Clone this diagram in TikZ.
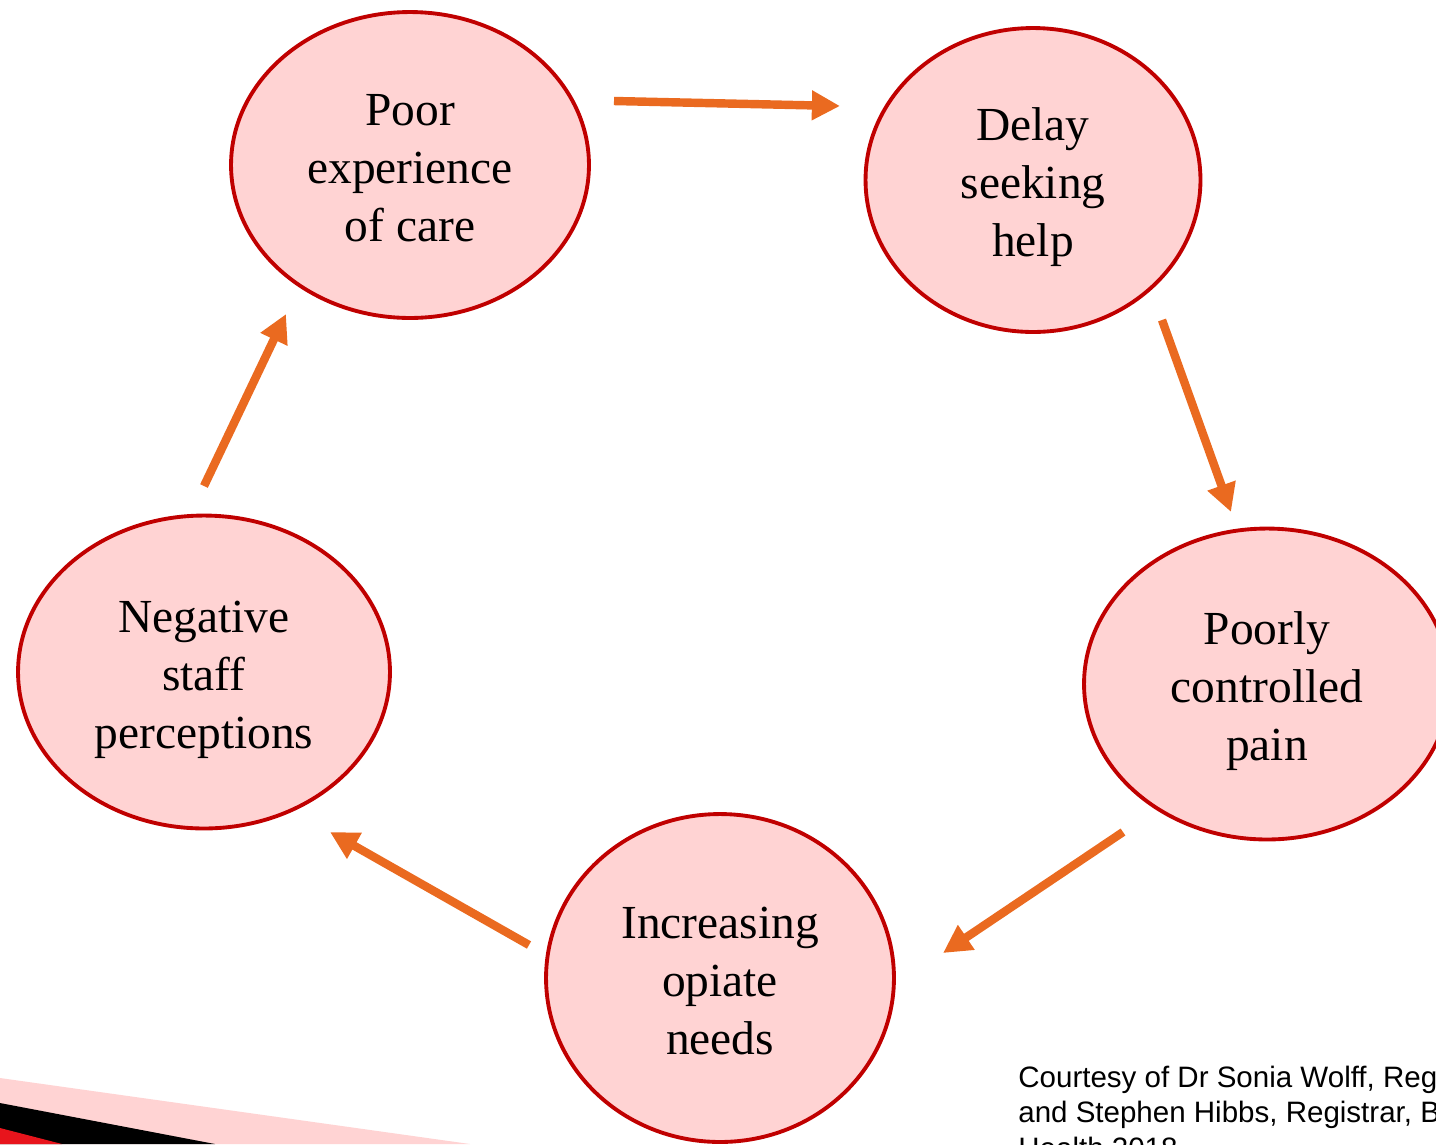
\documentclass[tikz,border=0pt]{standalone}
\usepackage{fontspec}
\setmainfont{Liberation Serif}
\newfontfamily\creditfont{Liberation Sans}
\usetikzlibrary{arrows.meta,shapes.geometric}
\definecolor{cyclepink}{HTML}{FFD3D3}
\definecolor{cyclered}{HTML}{C00000}
\definecolor{cycleorange}{HTML}{EA6A20}
\definecolor{bandred}{HTML}{E8141C}
% fixed height and depth, so each three-line label sits the same in its ellipse
\newcommand{\stagetop}{\rule{0pt}{27pt}}
\newcommand{\stagebottom}{\rule[-6pt]{0pt}{6pt}}

\begin{document}
\begin{tikzpicture}[x=0.02cm,y=-0.02cm]
      \useasboundingbox (0,0) rectangle (1436,1144);
      \clip (0,0) rectangle (1436,1144);
      % corner bands of the slide
      \fill[cyclepink] (0,1078) -- (470,1144) -- (0,1144) -- cycle;
      \fill[black] (0,1103) -- (215,1144) -- (0,1144) -- cycle;
      \fill[bandred] (0,1128) -- (62,1144) -- (0,1144) -- cycle;
      \begin{scope}[every node/.style={ellipse,draw=cyclered,fill=cyclepink,line width=2.2pt,
          inner sep=0pt,align=center,font=\fontsize{27}{33}\selectfont}]
        \node (poor) [minimum width=7.16cm,minimum height=6.12cm] at (410,165) {\stagetop Poor\\experience\\of care\stagebottom};
        \node (delay) [minimum width=6.7cm,minimum height=6.08cm] at (1033,180) {\stagetop Delay\\seeking\\help\stagebottom};
        \node (pain) [minimum width=7.32cm,minimum height=6.22cm] at (1267,684) {\stagetop Poorly\\controlled\\pain\stagebottom};
        \node (opiate) [minimum width=6.96cm,minimum height=6.56cm] at (720,978) {\stagetop Increasing\\opiate\\needs\stagebottom};
        \node (staff) [minimum width=7.44cm,minimum height=6.26cm] at (204,672) {\stagetop Negative\\staff\\perceptions\stagebottom};
      \end{scope}
      % arrow ends between the stages
      \coordinate (poor-out) at (614,101);
      \coordinate (delay-in) at (840,106);
      \coordinate (delay-out) at (1162,320);
      \coordinate (pain-in) at (1231,512);
      \coordinate (pain-out) at (1123,832);
      \coordinate (opiate-in) at (943,953);
      \coordinate (opiate-out) at (529,945);
      \coordinate (staff-in) at (330,832);
      \coordinate (staff-out) at (204,486);
      \coordinate (poor-in) at (286,314);
      \begin{scope}
        [every edge/.style={draw=cycleorange,line width=4.8pt,
          -{Triangle[length=16pt,width=16pt]}}]
        \path (poor-out) edge (delay-in);
        \path (delay-out) edge (pain-in);
        \path (pain-out) edge (opiate-in);
        \path (opiate-out) edge (staff-in);
        \path (staff-out) edge (poor-in);
      \end{scope}
      \node (credit) [anchor=north west,inner sep=0pt,align=left,
        font=\creditfont\fontsize{16.8}{20}\selectfont] at (1018,1066)
        {Courtesy of Dr Sonia Wolff, Registrar,\\and Stephen Hibbs, Registrar, Barts\\Health 2018};
    \end{tikzpicture}
\end{document}
